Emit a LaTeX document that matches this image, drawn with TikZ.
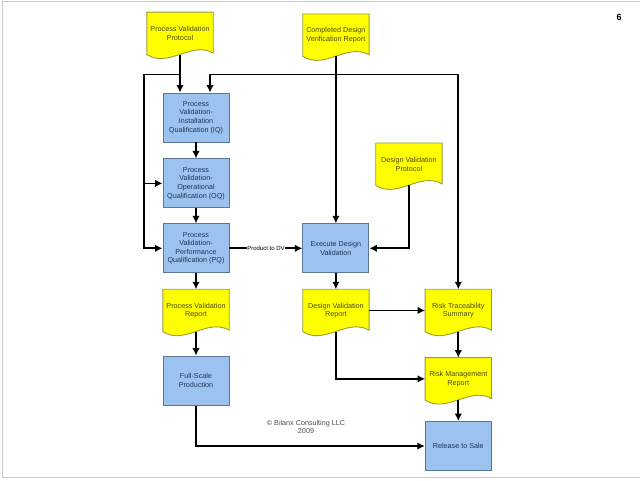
\documentclass[tikz,border=0pt]{standalone}
\usepackage{fontspec}
\setmainfont{Liberation Sans}
\usepackage{tikz}
\usetikzlibrary{positioning, arrows.meta, calc, backgrounds}
\definecolor{boxBlue}{HTML}{9CC3F0}
\definecolor{boxBorder}{HTML}{5B7799}
\definecolor{boxText}{HTML}{1E3558}
\definecolor{docYellow}{HTML}{FFFF00}
\definecolor{docBorder}{HTML}{9A9A40}
\definecolor{docText}{HTML}{4A4814}
\definecolor{slideFrame}{HTML}{C8C8C8}
\tikzstyle{procbox} =[draw=boxBorder, line width=0.9pt, fill=boxBlue, text=boxText, align=center, minimum width=66pt, minimum height=49pt, inner sep=1pt, font=\fontsize{7.2}{8.6}\selectfont]
\tikzstyle{docnode} =[text=docText, align=center, minimum width=66pt, minimum height=42pt, inner sep=1pt, font=\fontsize{7.2}{8.6}\selectfont]
\tikzstyle{docoutline} =[draw=docBorder, line width=0.9pt, fill=docYellow]
\tikzstyle{flow} =[-{Latex[length=7.5pt, width=7.5pt]}, line width=1.8pt, black]

\begin{document}
\begin{tikzpicture}[x=1pt, y=1pt]
\useasboundingbox (0,0) rectangle (640,-480);
\draw[slideFrame, line width=1pt] (640,-1.5) -- (2,-1.5) -- (2,-477) -- (640,-477);

\node (pageNum) [font=\bfseries\fontsize{9}{10}\selectfont] at (619,-17) {6};

% left column
\node (iq) [procbox] at (196,-117.5) {Process\\Validation-\\Installation\\Qualification (IQ)};
\node (pvProt) [docnode, above=38pt of iq, xshift=-16pt] {Process Validation\\Protocol};
\node (oq) [procbox, below=16pt of iq] {Process\\Validation-\\Operational\\Qualification (OQ)};
\node (pq) [procbox, below=15pt of oq] {Process\\Validation-\\Performance\\Qualification (PQ)};
\node (pvRep) [docnode, below=16pt of pq] {Process Validation\\Report};
\node (fsp) [procbox, below=24pt of pvRep] {Full-Scale\\Production};

% middle and right columns
\node (exec) [procbox, right=73pt of pq] {Execute Design\\Validation};
\node (cdvr) [docnode, above=167pt of exec] {Completed Design\\Verification Report};
\node (dvProt) [docnode, above=38pt of exec, xshift=73pt] {Design Validation\\Protocol};
\node (dvRep) [docnode, below=16pt of exec] {Design Validation\\Report};
\node (rts) [docnode, right=56pt of dvRep] {Risk Traceability\\Summary};
\node (rmr) [docnode, below=26pt of rts] {Risk Management\\Report};
\node (release) [procbox, below=21pt of rmr] {Release to Sale};

\node (copyright) [text=black!70, align=center, font=\fontsize{7.2}{8.6}\selectfont] at (306,-427) {© Bilanx Consulting LLC\\2009};

%document shapes
\begin{scope}[on background layer]
\foreach \d in {pvProt, cdvr, dvProt, pvRep, dvRep, rts, rmr}
	\draw[docoutline] (\d.north west) -- (\d.north east) -- ($(\d.south east)+(0,1.5)$)
		.. controls ($(\d.south east)+(-22,14)$) and ($(\d.south west)+(22,-14)$) .. (\d.south west) -- cycle;
\end{scope}

%bus lines
\coordinate (pvBus) at ($(pvProt.south)+(0,-20)$);
\coordinate (pvLeft) at ($(pvBus)+(-36,0)$);
\coordinate (cdvrBus) at (cdvr.south |- pvBus);

\draw[flow]
	(pvProt.south) -- (pvProt.south |- iq.north);
\draw[flow]
	(pvBus) -- (pvLeft) |- (oq.west);
\draw[flow]
	(pvLeft) |- (pq.west);

\draw[flow]
	(cdvr.south) -- (exec.north);
\draw[flow]
	(cdvrBus) -| ($(iq.north)+(14,0)$);
\draw[flow]
	(cdvrBus) -| (rts.north);

\draw[flow]
	(dvProt.south) |- (exec.east);

\draw[flow]
	(iq) -- (oq);
\draw[flow]
	(oq) -- (pq);
\draw[flow]
	(pq) -- node[fill=white, inner sep=0.5pt, font=\fontsize{6}{7}\selectfont] {Product to DV} (exec);
\draw[flow]
	(pq) -- (pvRep);
\draw[flow]
	(pvRep.south) -- (fsp);
\draw[flow]
	(exec) -- (dvRep);

\draw[flow]
	(dvRep.east) -- (rts.west);
\draw[flow]
	(dvRep.south) |- (rmr.west);
\draw[flow]
	(rts.south) -- (rmr);
\draw[flow]
	(rmr.south) -- (release);
\draw[flow]
	(fsp.south) |- (release.west);
\end{tikzpicture}
\end{document}
